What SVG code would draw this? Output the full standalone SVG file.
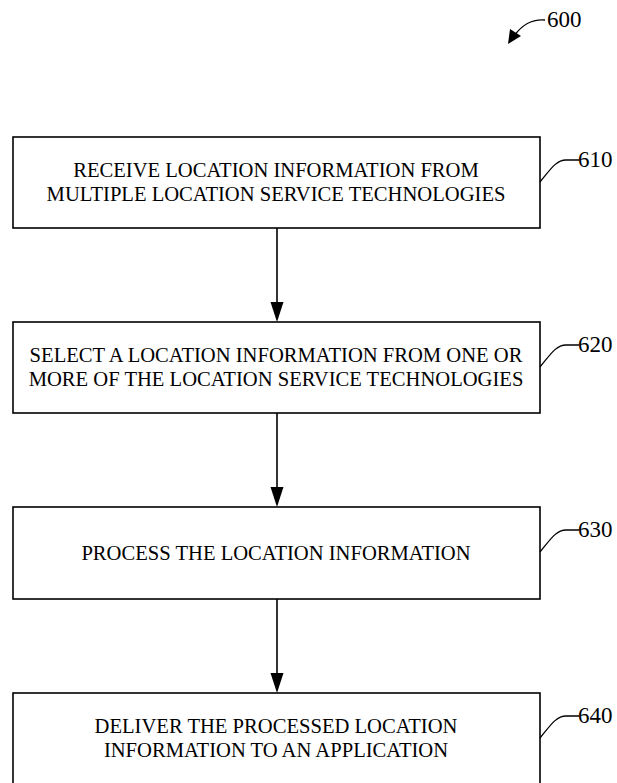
<svg xmlns="http://www.w3.org/2000/svg" width="617" height="783" viewBox="0 0 617 783">
  <style>
    .box { fill: #ffffff; stroke: #000000; stroke-width: 1.6; }
    .txt { font-family: "Liberation Serif", "Times New Roman", serif; font-size: 20.6px; fill: #000000; text-anchor: middle; }
    .ref { font-family: "Liberation Serif", "Times New Roman", serif; font-size: 23px; fill: #000000; }
    .lead { fill: none; stroke: #000000; stroke-width: 1.3; }
    .flow { fill: none; stroke: #000000; stroke-width: 1.6; }
    .head { fill: #000000; }
  </style>
  <rect width="617" height="783" fill="#ffffff"/>

  <!-- figure reference -->
  <g id="fig-600">
    <path class="lead" d="M545,20 C531,19 522,25 514,36"/>
    <path d="M508,44 L510,29 L521,36 Z" fill="#000000"/>
    <text class="ref" x="547" y="27">600</text>
  </g>

  <g id="step-610">
    <rect class="box" x="13" y="137" width="527" height="91"/>
    <text class="txt" x="276" y="177">RECEIVE LOCATION INFORMATION FROM</text>
    <text class="txt" x="276" y="201">MULTIPLE LOCATION SERVICE TECHNOLOGIES</text>
    <path class="lead" d="M540,182 C550,170 556,160 566,160 L579,160"/>
    <text class="ref" x="578" y="167">610</text>
  </g>

  <g id="step-620">
    <rect class="box" x="13" y="322" width="527" height="91"/>
    <text class="txt" x="276" y="362">SELECT A LOCATION INFORMATION FROM ONE OR</text>
    <text class="txt" x="276" y="386">MORE OF THE LOCATION SERVICE TECHNOLOGIES</text>
    <path class="lead" d="M540,367 C550,355 556,345 566,345 L579,345"/>
    <text class="ref" x="578" y="352">620</text>
  </g>

  <g id="step-630">
    <rect class="box" x="13" y="507" width="527" height="92"/>
    <text class="txt" x="276" y="560">PROCESS THE LOCATION INFORMATION</text>
    <path class="lead" d="M540,552 C550,540 556,530 566,530 L579,530"/>
    <text class="ref" x="578" y="537">630</text>
  </g>

  <g id="step-640">
    <rect class="box" x="13" y="693" width="527" height="110"/>
    <text class="txt" x="276" y="733">DELIVER THE PROCESSED LOCATION</text>
    <text class="txt" x="276" y="757">INFORMATION TO AN APPLICATION</text>
    <path class="lead" d="M540,738 C550,726 556,716 566,716 L579,716"/>
    <text class="ref" x="578" y="723">640</text>
  </g>

  <g id="connectors">
    <line class="flow" x1="277" y1="228" x2="277" y2="304"/>
    <path class="head" d="M270.5,302 L283.5,302 L277,322 Z"/>
    <line class="flow" x1="277" y1="413" x2="277" y2="489"/>
    <path class="head" d="M270.5,487 L283.5,487 L277,507 Z"/>
    <line class="flow" x1="277" y1="599" x2="277" y2="675"/>
    <path class="head" d="M270.5,673 L283.5,673 L277,693 Z"/>
  </g>
</svg>
